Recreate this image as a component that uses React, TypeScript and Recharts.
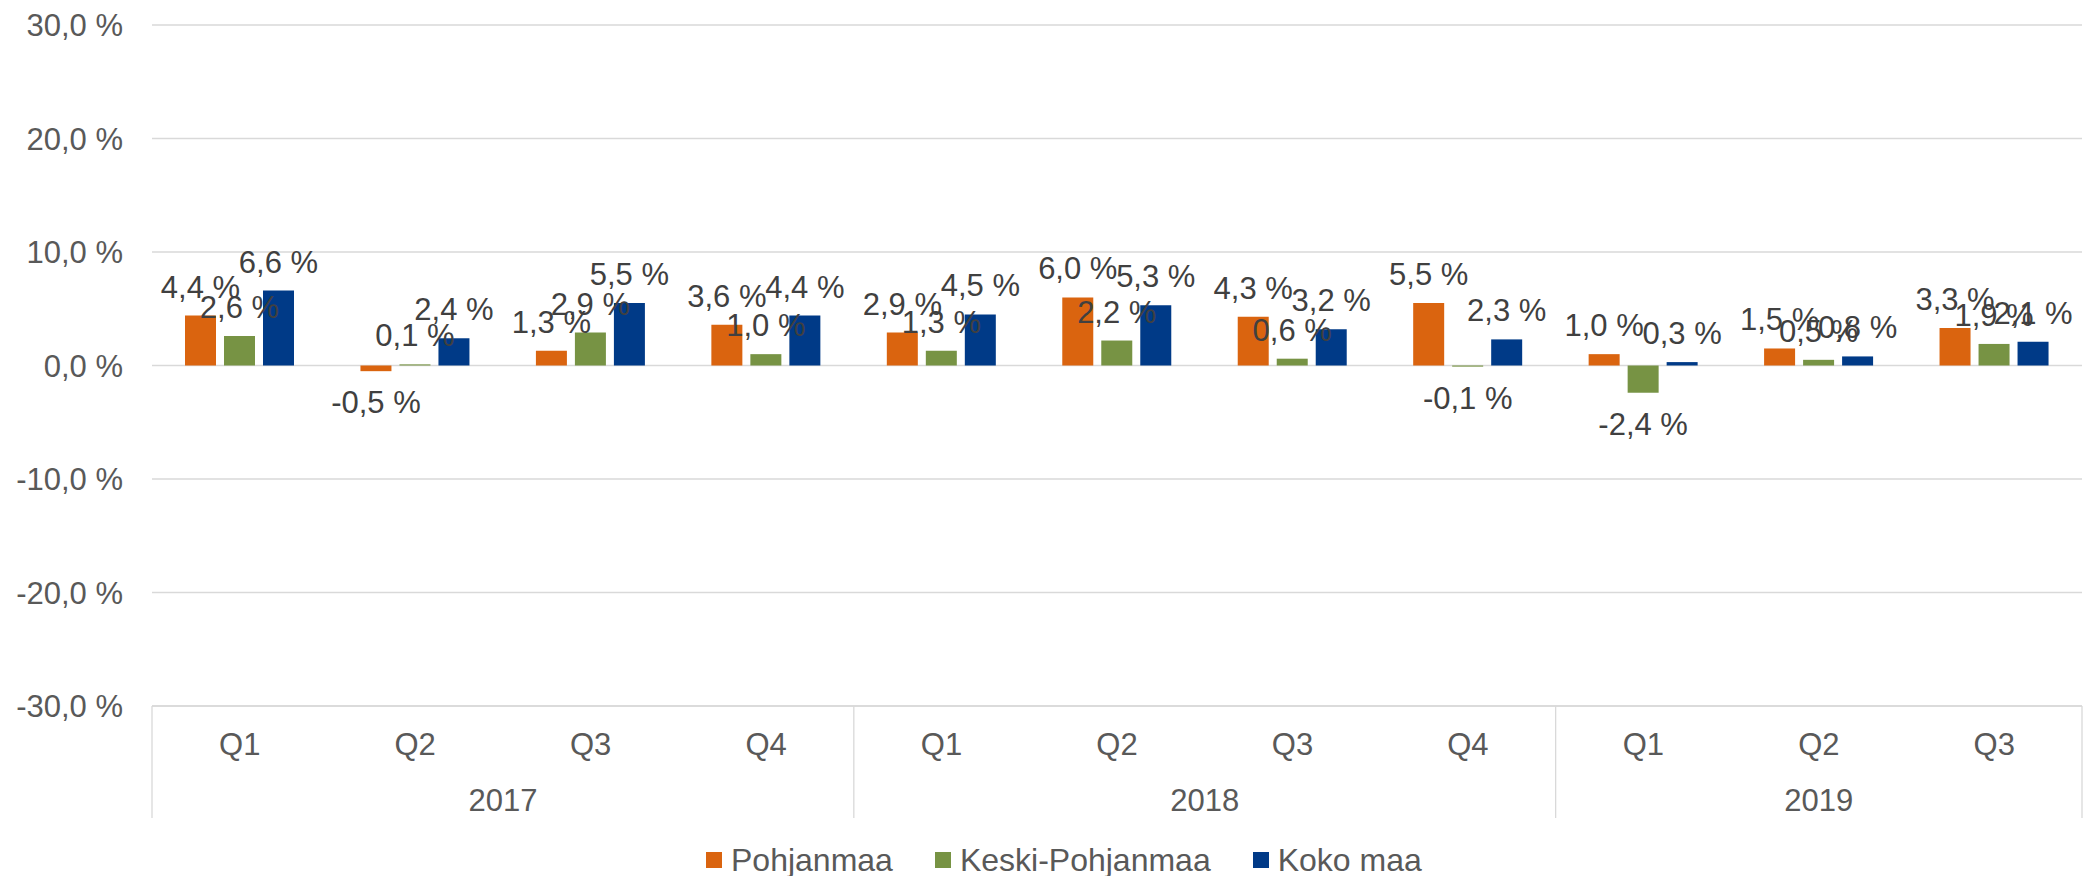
import React from 'react';
import { BarChart, Bar, XAxis, YAxis, CartesianGrid, LabelList, Legend } from 'recharts';

const quarters = ['Q1', 'Q2', 'Q3', 'Q4', 'Q1', 'Q2', 'Q3', 'Q4', 'Q1', 'Q2', 'Q3'];
const years = ['2017', '2017', '2017', '2017', '2018', '2018', '2018', '2018', '2019', '2019', '2019'];
const pohjanmaa = [4.4, -0.5, 1.3, 3.6, 2.9, 6.0, 4.3, 5.5, 1.0, 1.5, 3.3];
const keskiPohjanmaa = [2.6, 0.1, 2.9, 1.0, 1.3, 2.2, 0.6, -0.1, -2.4, 0.5, 1.9];
const kokoMaa = [6.6, 2.4, 5.5, 4.4, 4.5, 5.3, 3.2, 2.3, 0.3, 0.8, 2.1];
const yTicks = [-30, -20, -10, 0, 10, 20, 30];
const seriesNames = ['Pohjanmaa', 'Keski-Pohjanmaa', 'Koko maa'];
const seriesKeys = ['pohjanmaa', 'keski', 'koko'];
const colors = ['#DA640F', '#779344', '#003A87'];

const W = 2084;
const H = 876;
const MARGIN = { top: 25, right: 2, bottom: 58, left: 0 };
const Y_AXIS_W = 152;
const X_AXIS_H = 112;
const BAND = (W - MARGIN.left - MARGIN.right - Y_AXIS_W) / quarters.length;

const FONT = '"Liberation Sans", Arial, sans-serif';
const AXIS_TEXT = '#595959';
const LABEL_TEXT = '#404040';
const GRID = '#D9D9D9';

const data = quarters.map((q, i) => ({
  key: `${years[i]} ${q}`,
  pohjanmaa: pohjanmaa[i],
  keski: keskiPohjanmaa[i],
  koko: kokoMaa[i],
}));

const pct = (v: number) => `${v.toFixed(1).replace('.', ',')} %`;

function QuarterTick(props: any) {
  const { x, y, index } = props;
  const yr = years[index];
  const first = index === 0 || years[index - 1] !== yr;
  const last = index === years.length - 1;
  const count = years.filter((v) => v === yr).length;
  return (
    <g>
      <text x={x} y={y + 49} textAnchor="middle" fill={AXIS_TEXT} fontSize={31}>
        {quarters[index]}
      </text>
      {first && (
        <line x1={x - BAND / 2} x2={x - BAND / 2} y1={y} y2={y + X_AXIS_H} stroke={GRID} strokeWidth={1.3} />
      )}
      {first && (
        <text x={x + ((count - 1) / 2) * BAND} y={y + 105} textAnchor="middle" fill={AXIS_TEXT} fontSize={31}>
          {yr}
        </text>
      )}
      {last && (
        <line x1={x + BAND / 2} x2={x + BAND / 2} y1={y} y2={y + X_AXIS_H} stroke={GRID} strokeWidth={1.3} />
      )}
    </g>
  );
}

// data label: above positive bars, below negative ones, never wrapped
function ValueLabel(props: any) {
  const { x, y, width, height, value } = props;
  const v = Number(value);
  const top = Math.min(y, y + height);
  const bottom = Math.max(y, y + height);
  const ty = v >= 0 ? top - 18 : bottom + 20 + 22;
  return (
    <text x={x + width / 2} y={ty} textAnchor="middle" fill={LABEL_TEXT} fontSize={31}>
      {pct(v)}
    </text>
  );
}

const renderLegend = () => (
  <div
    style={{
      display: 'flex',
      alignItems: 'center',
      marginLeft: 706,
      fontFamily: FONT,
      fontSize: 32,
      lineHeight: '36px',
      color: AXIS_TEXT,
    }}
  >
    {seriesNames.map((n, i) => (
      <div key={n} style={{ display: 'flex', alignItems: 'center', marginRight: 42 }}>
        <span style={{ width: 16, height: 16, background: colors[i], marginRight: 9 }} />
        <span>{n}</span>
      </div>
    ))}
  </div>
);

export default function App() {
  return (
    <div style={{ position: 'absolute', left: 0, top: 0, width: W, height: H, fontFamily: FONT, background: '#fff' }}>
      <BarChart width={W} height={H} data={data} margin={MARGIN} barGap={8}>
        <CartesianGrid vertical={false} stroke={GRID} strokeWidth={1.5} />
        <XAxis
          dataKey="key"
          interval={0}
          height={X_AXIS_H}
          tickSize={0}
          tickMargin={0}
          tickLine={false}
          axisLine={{ stroke: GRID, strokeWidth: 1.5 }}
          tick={<QuarterTick />}
        />
        <YAxis
          type="number"
          domain={[-30, 30]}
          ticks={yTicks}
          width={Y_AXIS_W}
          axisLine={false}
          tickLine={false}
          tickSize={0}
          tickMargin={29}
          tickFormatter={pct}
          tick={{ fill: AXIS_TEXT, fontSize: 31 }}
        />
        <Legend
          layout="horizontal"
          verticalAlign="middle"
          align="center"
          content={renderLegend}
          wrapperStyle={{ left: 0, top: 842, width: W }}
        />
        {seriesKeys.map((k, i) => (
          <Bar key={k} dataKey={k} name={seriesNames[i]} fill={colors[i]} barSize={31} isAnimationActive={false}>
            <LabelList dataKey={k} content={<ValueLabel />} />
          </Bar>
        ))}
      </BarChart>
    </div>
  );
}
